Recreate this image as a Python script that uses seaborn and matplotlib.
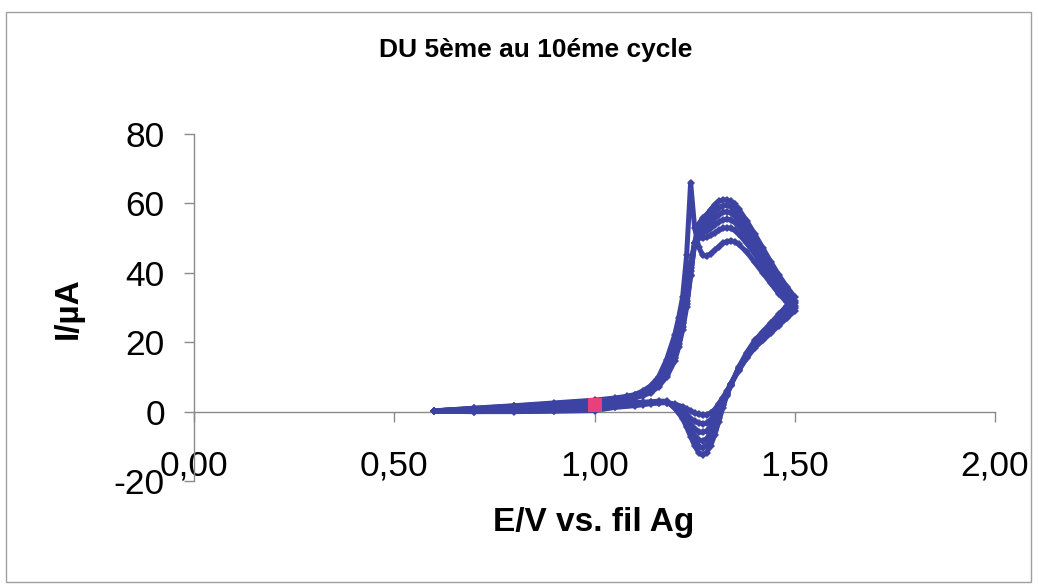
import numpy as np
import pandas as pd
import matplotlib
matplotlib.use("Agg")
import matplotlib.pyplot as plt
import seaborn as sns
from matplotlib.patches import Rectangle
from matplotlib.ticker import FuncFormatter

# ---------------- data ----------------
cycles = ["5", "6", "7", "8", "9", "10"]

E_fwd = [0.60, 0.70, 0.80, 0.90, 1.00, 1.05, 1.08, 1.10, 1.12, 1.14, 1.16, 1.18,
         1.20, 1.21, 1.22, 1.23, 1.24, 1.25, 1.26, 1.27, 1.28, 1.29, 1.30, 1.31,
         1.32, 1.33, 1.34, 1.35, 1.36, 1.38, 1.40, 1.42, 1.44, 1.46, 1.48, 1.50]

E_rev = [1.50, 1.48, 1.46, 1.44, 1.42, 1.40, 1.38, 1.36, 1.34, 1.33, 1.32, 1.31,
         1.30, 1.29, 1.28, 1.27, 1.26, 1.25, 1.24, 1.23, 1.22, 1.20, 1.18, 1.16,
         1.14, 1.12, 1.10, 1.05, 1.00, 0.90, 0.80, 0.70, 0.60]

I_fwd_c5 = [0.2, 1.0, 1.7, 2.5, 3.3, 3.9, 4.4, 4.9, 5.9, 7.4, 10.0, 15.0, 22.0, 27.0,
            33.0, 45.0, 66.0, 53.0, 47.5, 45.0, 44.8, 45.5, 46.5, 47.5, 48.5, 49.0,
            49.2, 49.0, 48.2, 46.0, 43.0, 40.0, 37.0, 34.0, 31.5, 29.0]
I_fwd_c6 = [0.2, 0.9, 1.6, 2.3, 3.1, 3.7, 4.2, 4.7, 5.6, 6.7, 8.7, 12.5, 18.5, 22.5,
            28.0, 35.0, 43.0, 48.5, 50.0, 50.0, 50.2, 50.8, 51.5, 52.2, 52.8, 53.0,
            52.8, 52.2, 51.2, 48.5, 45.5, 42.0, 38.5, 35.5, 32.5, 29.8]
I_fwd_c7 = [0.2, 0.8, 1.5, 2.2, 2.9, 3.5, 4.0, 4.5, 5.3, 6.3, 8.3, 11.8, 17.5, 21.5,
            26.5, 33.5, 41.5, 48.5, 51.0, 51.5, 52.0, 52.8, 53.8, 54.6, 55.2, 55.4,
            55.2, 54.5, 53.4, 50.5, 47.2, 43.6, 40.0, 36.7, 33.5, 30.5]
I_fwd_c8 = [0.2, 0.8, 1.4, 2.0, 2.7, 3.3, 3.8, 4.3, 5.0, 6.0, 8.0, 11.2, 16.5, 20.5,
            25.5, 32.0, 40.5, 48.5, 52.0, 53.0, 53.6, 54.6, 55.8, 56.8, 57.4, 57.6,
            57.3, 56.5, 55.4, 52.2, 48.7, 44.8, 41.0, 37.6, 34.2, 31.3]
I_fwd_c9 = [0.2, 0.7, 1.3, 1.9, 2.5, 3.1, 3.6, 4.1, 4.8, 5.7, 7.6, 10.6, 15.5, 19.5,
            24.5, 31.0, 39.5, 48.5, 53.0, 54.4, 55.2, 56.5, 57.8, 58.8, 59.3, 59.4,
            59.1, 58.2, 57.0, 53.8, 50.0, 46.0, 42.0, 38.5, 35.0, 32.0]
I_fwd_c10 = [0.2, 0.6, 1.2, 1.7, 2.3, 2.9, 3.4, 3.9, 4.6, 5.4, 7.2, 10.0, 14.5, 18.5,
             23.5, 30.0, 39.0, 48.5, 54.0, 55.8, 56.8, 58.2, 59.6, 60.6, 61.0, 61.0,
             60.6, 59.7, 58.4, 55.0, 51.2, 47.2, 43.2, 39.4, 36.0, 33.0]

I_rev_c5 = [29.0, 26.9, 24.8, 22.6, 20.5, 18.4, 15.4, 11.8, 8.0, 5.8, 4.0, 2.2, 0.6,
            -0.4, -0.9, -1.0, -0.8, -0.4, 0.2, 0.8, 1.4, 2.2, 2.6, 2.5, 2.3, 2.0,
            1.7, 1.2, 0.3, 0.1, 0.0, 0.0, 0.1]
I_rev_c6 = [29.8, 27.6, 25.4, 23.2, 21.0, 18.8, 15.7, 12.0, 7.9, 5.5, 3.5, 1.2, -0.8,
            -2.4, -3.3, -3.5, -3.3, -2.8, -2.0, -1.0, 0.0, 1.8, 2.6, 2.6, 2.4, 2.1,
            1.9, 1.4, 0.6, 0.3, 0.1, 0.0, 0.1]
I_rev_c7 = [30.5, 28.3, 26.0, 23.7, 21.4, 19.2, 16.0, 12.2, 7.8, 5.2, 3.0, 0.2, -2.4,
            -4.4, -5.6, -6.0, -5.8, -5.0, -3.8, -2.4, -0.8, 1.6, 2.7, 2.7, 2.5, 2.3,
            2.1, 1.6, 0.9, 0.5, 0.3, 0.1, 0.1]
I_rev_c8 = [31.3, 29.0, 26.6, 24.2, 21.9, 19.6, 16.3, 12.4, 7.7, 5.0, 2.4, -0.8, -3.8,
            -6.0, -7.8, -8.5, -8.2, -7.0, -5.2, -3.2, -1.2, 1.4, 2.8, 2.8, 2.6, 2.4,
            2.3, 1.8, 1.2, 0.7, 0.4, 0.2, 0.1]
I_rev_c9 = [32.0, 29.6, 27.2, 24.8, 22.4, 20.0, 16.6, 12.6, 7.6, 4.8, 1.8, -1.8, -5.2,
            -7.8, -9.6, -10.5, -10.0, -8.4, -6.2, -3.8, -1.6, 1.2, 2.9, 2.9, 2.7, 2.6,
            2.5, 2.0, 1.5, 0.9, 0.5, 0.3, 0.1]
I_rev_c10 = [33.0, 30.5, 28.0, 25.5, 23.0, 20.5, 17.0, 12.8, 7.5, 4.5, 1.0, -3.0, -6.8,
             -9.8, -11.8, -12.5, -11.8, -9.8, -7.2, -4.5, -2.0, 1.0, 3.0, 3.0, 2.8, 2.7,
             2.6, 2.2, 1.8, 1.1, 0.7, 0.4, 0.1]

marker_E = [1.00]
marker_I = [1.8]

x_ticks = [0.0, 0.5, 1.0, 1.5, 2.0]
y_ticks = [-20, 0, 20, 40, 60, 80]

title = "DU 5ème au 10éme cycle"
x_label = "E/V vs. fil Ag"
y_label = "I/µA"

# ---------------- build table ----------------
fwd = [I_fwd_c5, I_fwd_c6, I_fwd_c7, I_fwd_c8, I_fwd_c9, I_fwd_c10]
rev = [I_rev_c5, I_rev_c6, I_rev_c7, I_rev_c8, I_rev_c9, I_rev_c10]
rows = []
for c, f, r in zip(cycles, fwd, rev):
    k = 0
    for e, i in zip(E_fwd, f):
        rows.append((c, k, e, i)); k += 1
    for e, i in zip(E_rev[1:], r[1:]):
        rows.append((c, k, e, i)); k += 1
df = pd.DataFrame(rows, columns=["cycle", "order", "E", "I"])

# ---------------- style ----------------
sns.set_style("white")
plt.rcParams["font.family"] = ["Liberation Sans", "DejaVu Sans"]
plt.rcParams["text.color"] = "black"
plt.rcParams["axes.labelcolor"] = "black"

BLUE = "#3D43A3"
PINK = "#E8407D"
GREY = "#8A8A8A"

fig = plt.figure(figsize=(10.38, 5.87), dpi=100)
ax = fig.add_axes([194 / 1038, 1 - 481 / 587, 801 / 1038, (481 - 134) / 587])

sns.lineplot(data=df, x="E", y="I", units="cycle", estimator=None, sort=False,
             color=BLUE, linewidth=3.6, marker="D", markersize=4.2,
             markeredgewidth=0, ax=ax, legend=False)
ax.plot(marker_E, marker_I, linestyle="none", marker="s", markersize=10,
        color=PINK, markeredgewidth=0, zorder=5)

ax.set_xlim(0, 2)
ax.set_ylim(-20, 80)
ax.set_xticks(x_ticks)
ax.set_yticks(y_ticks)
ax.xaxis.set_major_formatter(FuncFormatter(lambda v, p: f"{v:.2f}".replace(".", ",")))
ax.yaxis.set_major_formatter(FuncFormatter(lambda v, p: f"{v:.0f}"))

for s in ["top", "right"]:
    ax.spines[s].set_visible(False)
ax.spines["bottom"].set_position(("data", 0))
for s in ["left", "bottom"]:
    ax.spines[s].set_color(GREY)
    ax.spines[s].set_linewidth(1.0)
ax.spines["bottom"].set_zorder(0)

ax.tick_params(axis="y", direction="out", length=7, width=1, color=GREY,
               labelsize=25.5, pad=14, left=True, labelcolor="black")
ax.tick_params(axis="x", direction="out", length=7, width=1, color=GREY,
               labelsize=25.5, pad=20, bottom=True, labelcolor="black")
ax.grid(False)

ax.set_xlabel(x_label, fontsize=24, fontweight="bold", color="black")
ax.set_ylabel(y_label, fontsize=24, fontweight="bold", color="black")
ax.xaxis.label.set_va("center")
ax.yaxis.label.set_va("center")
ax.xaxis.set_label_coords((594 - 194) / 801, (481 - 522) / 347)
ax.yaxis.set_label_coords((68 - 194) / 801, (481 - 308) / 347)

fig.text(536 / 1038, 1 - 50 / 587, title, ha="center", va="center",
         fontsize=19, fontweight="bold", color="black")

fig.patches.append(Rectangle((6 / 1038, 1 - 582 / 587), 1025 / 1038, 570 / 587,
                             transform=fig.transFigure, fill=False,
                             edgecolor="#A0A0A0", linewidth=1.0))

fig.savefig("out.png", dpi=100)
